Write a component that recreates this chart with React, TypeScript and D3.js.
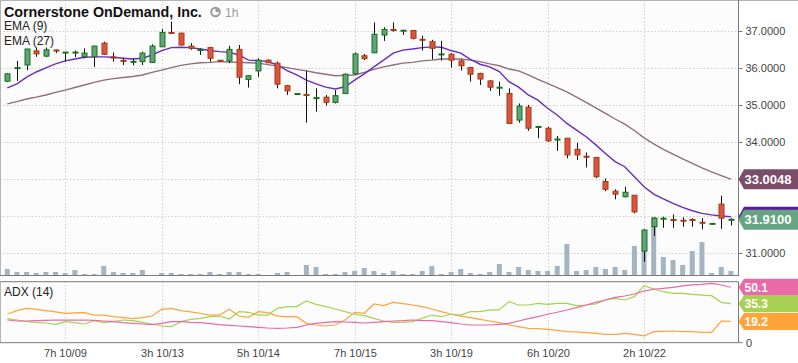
import React from 'react';
import * as d3 from 'd3';

const W = 798;
const H = 363;

const opens = [
  35.65, 36.00, 36.09, 36.47, 36.33, 36.49, 36.42, 36.42, 36.31, 36.31,
  36.68, 36.31, 36.22, 36.15, 36.18, 36.16, 36.58, 36.97, 36.95, 36.60,
  36.49, 36.56, 36.22, 36.20, 36.51, 35.70, 35.93, 36.22, 36.14, 35.53,
  35.30, 35.29, 35.19, 35.22, 35.08, 35.32, 35.85, 36.34, 36.42, 36.90,
  37.05, 37.01, 37.02, 36.78, 36.72, 36.37, 36.38, 36.20, 36.02, 35.86,
  35.66, 35.47, 35.32, 34.60, 34.95, 34.41, 34.38, 34.07, 34.11, 33.81,
  33.62, 33.59, 32.94, 32.68, 32.53, 32.57, 31.06, 31.72, 31.93, 31.92,
  31.90, 31.92, 31.84, 31.79, 32.33, 31.90,
];
const highs = [
  35.87, 36.20, 36.53, 36.56, 36.56, 36.51, 36.44, 36.48, 36.54, 36.61,
  36.72, 36.43, 36.29, 36.27, 36.45, 36.65, 37.06, 37.26, 36.96, 36.68,
  36.54, 36.58, 36.22, 36.61, 36.63, 35.82, 36.27, 36.24, 36.18, 35.55,
  35.31, 35.93, 35.46, 35.28, 35.41, 35.86, 36.43, 36.39, 37.24, 37.11,
  37.24, 37.04, 37.03, 36.88, 36.77, 36.74, 36.41, 36.24, 36.04, 35.88,
  35.68, 35.64, 35.46, 35.05, 35.01, 34.43, 34.42, 34.17, 34.11, 33.99,
  33.72, 33.59, 33.02, 32.73, 32.80, 32.57, 31.65, 31.97, 31.99, 32.05,
  31.97, 31.95, 31.95, 31.80, 32.56, 31.95,
];
const lows = [
  35.63, 35.66, 35.95, 36.31, 36.30, 36.41, 36.18, 36.30, 36.27, 36.04,
  36.36, 36.18, 36.09, 36.08, 36.09, 36.14, 36.58, 36.93, 36.62, 36.50,
  36.36, 36.18, 36.19, 36.14, 35.57, 35.48, 35.77, 36.14, 35.46, 35.28,
  35.30, 34.53, 34.83, 34.99, 35.05, 35.32, 35.82, 36.22, 36.41, 36.74,
  36.99, 36.90, 36.78, 36.48, 36.24, 36.21, 36.02, 35.94, 35.64, 35.55,
  35.39, 35.26, 34.50, 34.53, 34.31, 34.11, 34.01, 33.77, 33.57, 33.52,
  33.32, 33.03, 32.68, 32.46, 32.51, 32.08, 30.77, 31.47, 31.69, 31.69,
  31.72, 31.72, 31.65, 31.79, 31.66, 31.75,
];
const closes = [
  35.85, 36.01, 36.52, 36.39, 36.50, 36.47, 36.43, 36.43, 36.41, 36.60,
  36.38, 36.27, 36.18, 36.20, 36.41, 36.60, 36.97, 36.94, 36.63, 36.54,
  36.50, 36.27, 36.19, 36.51, 35.76, 35.80, 36.22, 36.15, 35.57, 35.39,
  35.31, 35.27, 35.20, 35.08, 35.26, 35.84, 36.39, 36.26, 36.92, 37.05,
  37.02, 37.02, 36.81, 36.76, 36.54, 36.38, 36.22, 36.07, 35.84, 35.71,
  35.49, 35.48, 34.51, 34.98, 34.38, 34.42, 34.04, 34.08, 33.66, 33.66,
  33.60, 33.07, 32.73, 32.60, 32.65, 32.12, 31.63, 31.95, 31.94, 31.88,
  31.86, 31.88, 31.81, 31.80, 31.95, 31.91,
];
const volumes = [
  15000, 7500, 7500, 5000, 7500, 7500, 5000, 12500, 2500, 2500,
  22500, 7500, 5000, 5000, 12500, 0, 5000, 5000, 2500, 2500,
  2500, 7500, 2500, 7500, 7500, 2500, 2500, 0, 5000, 7500,
  0, 25000, 20000, 2500, 2500, 7500, 10000, 17500, 10000, 5000,
  10000, 2500, 2500, 10000, 22500, 2500, 7500, 15000, 5000, 2500,
  7500, 27500, 7500, 20000, 12500, 10000, 10000, 22500, 77500, 10000,
  12500, 20000, 15000, 20000, 12500, 72500, 112500, 145000, 45000, 37500,
  25000, 60000, 82500, 5000, 20000, 10000,
];
const ema9 = [
  35.47, 35.58, 35.76, 35.90, 36.01, 36.12, 36.20, 36.25, 36.30, 36.31,
  36.31, 36.30, 36.27, 36.25, 36.27, 36.36, 36.48, 36.56, 36.57, 36.56,
  36.52, 36.48, 36.45, 36.43, 36.36, 36.22, 36.21, 36.18, 36.09, 35.94,
  35.82, 35.68, 35.58, 35.49, 35.44, 35.50, 35.68, 35.85, 36.04, 36.22,
  36.41, 36.49, 36.52, 36.56, 36.58, 36.57, 36.48, 36.41, 36.24, 36.11,
  36.04, 35.91, 35.64, 35.49, 35.28, 35.14, 34.92, 34.74, 34.51, 34.33,
  34.15, 33.93, 33.70, 33.48, 33.34, 33.07, 32.80, 32.60, 32.47, 32.35,
  32.24, 32.15, 32.08, 32.04, 32.01, 31.99,
];
const ema27 = [
  35.04, 35.10, 35.17, 35.22, 35.28, 35.35, 35.41, 35.48, 35.55, 35.62,
  35.68, 35.72, 35.75, 35.78, 35.82, 35.89, 35.95, 36.02, 36.08, 36.12,
  36.15, 36.16, 36.18, 36.17, 36.16, 36.15, 36.14, 36.10, 36.06, 36.02,
  35.97, 35.93, 35.88, 35.84, 35.80, 35.81, 35.82, 35.89, 35.97, 36.04,
  36.09, 36.14, 36.16, 36.20, 36.22, 36.25, 36.25, 36.25, 36.22, 36.18,
  36.12, 36.07, 35.98, 35.93, 35.82, 35.70, 35.59, 35.48, 35.36, 35.22,
  35.08, 34.93, 34.78, 34.63, 34.49, 34.32, 34.12, 33.96, 33.81, 33.68,
  33.55, 33.43, 33.31, 33.20, 33.10, 33.0048,
];
const adx = [
  20.5, 19.6, 19.6, 19.9, 20.2, 20.5, 20.5, 20.5, 20.5, 20.2,
  19.6, 19.0, 18.1, 17.5, 16.9, 16.3, 17.5, 19.0, 19.0, 18.4,
  18.1, 17.2, 16.3, 15.7, 15.1, 14.5, 13.9, 13.3, 13.0, 13.3,
  13.9, 16.0, 17.5, 18.4, 19.0, 18.7, 18.4, 17.8, 18.4, 19.0,
  19.6, 19.9, 20.5, 19.9, 19.9, 19.0, 18.1, 16.9, 16.0, 16.0,
  16.0, 16.6, 17.5, 19.6, 21.7, 23.5, 25.7, 27.5, 29.6, 31.7,
  34.1, 36.5, 38.6, 41.0, 42.2, 44.0, 46.7, 48.3, 49.2, 50.1,
  51.3, 52.2, 52.8, 53.7, 52.2, 50.1,
];
const diMinus = [
  21.7, 20.5, 19.0, 18.4, 17.8, 16.6, 19.0, 18.1, 16.9, 19.9,
  18.1, 19.0, 20.5, 19.9, 18.4, 16.9, 15.1, 14.5, 19.0, 21.1,
  22.0, 23.5, 24.1, 21.4, 28.1, 27.5, 25.0, 25.0, 31.1, 32.6,
  32.6, 37.7, 34.7, 32.6, 30.5, 28.1, 25.7, 24.4, 22.0, 19.6,
  18.4, 18.4, 19.0, 22.0, 25.0, 23.5, 25.7, 25.0, 28.1, 28.1,
  29.6, 29.6, 37.1, 34.1, 34.1, 35.6, 34.7, 35.6, 35.6, 33.5,
  34.1, 35.0, 38.6, 40.1, 38.6, 41.6, 51.6, 48.6, 46.1, 44.6,
  44.6, 43.7, 43.1, 42.5, 36.5, 35.3,
];
const diPlus = [
  25.9, 29.0, 31.1, 30.2, 29.0, 27.8, 26.6, 26.9, 27.2, 25.0,
  25.0, 23.5, 22.6, 21.7, 22.6, 24.1, 30.2, 31.1, 29.0, 27.8,
  26.6, 25.0, 25.0, 30.2, 24.1, 22.9, 28.1, 27.2, 24.1, 23.5,
  23.5, 17.5, 16.0, 15.1, 16.0, 20.5, 27.5, 26.6, 35.0, 33.5,
  36.5, 35.3, 34.1, 32.6, 30.5, 28.1, 25.7, 24.1, 22.6, 21.1,
  19.6, 18.1, 16.0, 14.5, 13.0, 12.7, 12.1, 11.2, 10.0, 9.7,
  9.1, 8.5, 7.6, 7.6, 8.5, 7.6, 6.1, 10.0, 10.3, 10.6,
  10.0, 10.0, 9.4, 9.4, 19.6, 19.2,
];
const timeTickIndex = [6, 16, 26, 36, 46, 56, 66];
const timeTickLabels = ['7h 10/09', '3h 10/13', '5h 10/14', '7h 10/15', '3h 10/19', '6h 10/20', '2h 10/22'];
const priceTicks = [31, 32, 33, 34, 35, 36, 37];

const FONT = "'Liberation Sans', Arial, Helvetica, sans-serif";
const AXIS_X = 738.5;
const MAIN_TOP = 0;
const MAIN_BOTTOM = 275;
const ADX_TOP = 281.7;
const ADX_BOTTOM = 342.7;

const C = {
  upFill: '#65a27c',
  upStroke: '#0f7418',
  downFill: '#dc5441',
  downStroke: '#a83a10',
  vol: '#a4b4c1',
  ema9: '#6a2cbb',
  ema27: '#8f6c80',
  ema27Label: '#7b4d68',
  ema9Label: '#5a1c9e',
  closeLabel: '#68a482',
  adx: '#e96aa6',
  diMinus: '#a8d152',
  diPlus: '#ffa33a',
  grid: '#c9d1c9',
};

export default function App() {
  const n = closes.length;
  const x = d3.scaleLinear().domain([-0.757, n - 0.21]).range([0, AXIS_X]);
  const y = d3.scaleLinear().domain([30.414, 37.846]).range([MAIN_BOTTOM, MAIN_TOP]);
  const yVol = d3.scaleLinear().domain([0, d3.max(volumes) as number]).range([MAIN_BOTTOM, MAIN_BOTTOM - 58]);
  const yAdx = d3.scaleLinear().domain([0, 55.15]).range([ADX_BOTTOM, ADX_TOP]);

  const priceLine = d3.line<number>().x((_, i) => x(i)).y((d) => y(d));
  const adxLine = d3.line<number>().x((_, i) => x(i)).y((d) => yAdx(d));

  const bodyW = 5;

  const labelPoly = (cy: number, h: number) => {
    const hh = h / 2;
    return `M${AXIS_X},${cy} L${AXIS_X + 5.5},${cy - hh} L${W},${cy - hh} L${W},${cy + hh} L${AXIS_X + 5.5},${cy + hh} Z`;
  };

  const lastIdx = n - 1;
  // EMA(9) label sits beneath the close label; only its edge is visible, so no text
  const mainLabels = [
    { v: ema27[lastIdx], color: C.ema27Label, showText: true },
    { v: ema9[lastIdx], color: C.ema9Label, showText: false },
    { v: closes[lastIdx], color: C.closeLabel, showText: true },
  ];
  const adxLabels = [
    { v: adx[lastIdx], color: C.adx },
    { v: diMinus[lastIdx], color: C.diMinus },
    { v: diPlus[lastIdx], color: C.diPlus },
  ];
  // tick texts hidden behind value labels are not drawn
  const tickHidden = (p: number) => mainLabels.some((l) => Math.abs(y(l.v) - y(p)) < 12);

  return (
    <svg width={W} height={H} style={{ position: 'absolute', left: 0, top: 0, background: '#fff' }} fontFamily={FONT}>
      <defs>
        <clipPath id="mainClip">
          <rect x={0} y={MAIN_TOP} width={AXIS_X} height={MAIN_BOTTOM - MAIN_TOP} />
        </clipPath>
        <clipPath id="adxClip">
          <rect x={0} y={ADX_TOP} width={AXIS_X} height={ADX_BOTTOM - ADX_TOP} />
        </clipPath>
      </defs>
      <rect x={0} y={MAIN_TOP} width={AXIS_X} height={MAIN_BOTTOM - MAIN_TOP} fill="#fcfcfc" />
      <rect x={0} y={ADX_TOP} width={AXIS_X} height={ADX_BOTTOM - ADX_TOP} fill="#fcfcfc" />

      {/* grids */}
      {priceTicks.map((p) => (
        <line key={'hg' + p} x1={0} x2={AXIS_X} y1={Math.round(y(p)) + 0.5} y2={Math.round(y(p)) + 0.5}
          stroke={C.grid} strokeDasharray="1.5,2" />
      ))}
      {timeTickIndex.map((ti) => (
        <g key={'vg' + ti}>
          <line x1={Math.round(x(ti)) + 0.5} x2={Math.round(x(ti)) + 0.5} y1={MAIN_TOP} y2={MAIN_BOTTOM}
            stroke={C.grid} strokeDasharray="1.5,2" />
          <line x1={Math.round(x(ti)) + 0.5} x2={Math.round(x(ti)) + 0.5} y1={ADX_TOP} y2={ADX_BOTTOM}
            stroke={C.grid} strokeDasharray="1.5,2" />
        </g>
      ))}

      {/* volume */}
      <g>
        {volumes.map((v, i) => (
          v > 0 ? (
            <rect key={'v' + i} x={x(i) - 2.5} y={yVol(v)} width={5} height={MAIN_BOTTOM - yVol(v)} fill={C.vol} />
          ) : null
        ))}
      </g>

      {/* EMA lines */}
      <g clipPath="url(#mainClip)">
        <path d={priceLine(ema27) || ''} fill="none" stroke={C.ema27} strokeWidth={1.4} />
        <path d={priceLine(ema9) || ''} fill="none" stroke={C.ema9} strokeWidth={1.4} />
      </g>

      {/* candles */}
      <g>
        {closes.map((c, i) => {
          const o = opens[i];
          const up = c >= o;
          const cx = Math.round(x(i)) + 0.5;
          const top = y(Math.max(o, c));
          const bot = y(Math.min(o, c));
          const h = bot - top;
          return (
            <g key={'c' + i}>
              <line x1={cx} x2={cx} y1={y(highs[i])} y2={y(lows[i])} stroke="#111" strokeWidth={1} />
              {h < 2.2 ? (
                <rect x={cx - 3} y={(top + bot) / 2 - 1} width={6} height={2}
                  fill={up ? C.upStroke : C.downStroke} />
              ) : (
                <rect x={cx - bodyW / 2} y={top} width={bodyW} height={h}
                  fill={up ? C.upFill : C.downFill} stroke={up ? C.upStroke : C.downStroke} strokeWidth={1} />
              )}
            </g>
          );
        })}
      </g>

      {/* ADX lines */}
      <g clipPath="url(#adxClip)">
        <path d={adxLine(diPlus) || ''} fill="none" stroke={C.diPlus} strokeWidth={1.2} />
        <path d={adxLine(diMinus) || ''} fill="none" stroke={C.diMinus} strokeWidth={1.2} />
        <path d={adxLine(adx) || ''} fill="none" stroke={C.adx} strokeWidth={1.2} />
      </g>

      {/* frames */}
      <line x1={0} x2={W} y1={0.5} y2={0.5} stroke="#b5b5b5" />
      <line x1={0.5} x2={0.5} y1={0} y2={MAIN_BOTTOM} stroke="#b5b5b5" />
      <line x1={0} x2={AXIS_X} y1={MAIN_BOTTOM + 0.5} y2={MAIN_BOTTOM + 0.5} stroke="#7a7a7a" />
      <line x1={0} x2={AXIS_X} y1={ADX_TOP} y2={ADX_TOP} stroke="#7a7a7a" />
      <line x1={0.5} x2={0.5} y1={ADX_TOP} y2={ADX_BOTTOM} stroke="#b5b5b5" />
      <line x1={0} x2={AXIS_X} y1={ADX_BOTTOM} y2={ADX_BOTTOM} stroke="#7a7a7a" />
      <line x1={AXIS_X} x2={AXIS_X} y1={0} y2={MAIN_BOTTOM + 1} stroke="#7a7a7a" />
      <line x1={AXIS_X} x2={AXIS_X} y1={ADX_TOP} y2={ADX_BOTTOM} stroke="#7a7a7a" />

      {/* price axis */}
      {priceTicks.map((p) => (
        <g key={'pt' + p}>
          <line x1={AXIS_X} x2={AXIS_X + 4} y1={Math.round(y(p)) + 0.5} y2={Math.round(y(p)) + 0.5} stroke="#7a7a7a" />
          {tickHidden(p) ? null : (
            <text x={745.5} y={y(p)} dy="0.36em" fontSize={11} fill="#444">{p.toFixed(4)}</text>
          )}
        </g>
      ))}
      <line x1={AXIS_X} x2={AXIS_X + 4} y1={ADX_BOTTOM} y2={ADX_BOTTOM} stroke="#7a7a7a" />
      <text x={746} y={ADX_BOTTOM} dy="0.36em" fontSize={11} fill="#444">0</text>

      {/* value labels */}
      {mainLabels.map((l, k) => (
        <g key={'ml' + k}>
          <path d={labelPoly(y(l.v), 20)} fill={l.color} />
          {l.showText ? (
            <text x={744.5} y={y(l.v)} dy="0.36em" fontSize={13} fontWeight="bold" fill="#fff">{l.v.toFixed(4)}</text>
          ) : null}
        </g>
      ))}
      {adxLabels.map((l, k) => (
        <g key={'al' + k}>
          <path d={labelPoly(yAdx(l.v), 17)} fill={l.color} />
          <text x={744.5} y={yAdx(l.v)} dy="0.36em" fontSize={12} fontWeight="bold" fill="#fff">{l.v.toFixed(1)}</text>
        </g>
      ))}

      {/* time axis labels */}
      {timeTickIndex.map((ti, k) => (
        <text key={'tl' + ti} x={Math.round(x(ti)) + 0.5} y={357} textAnchor="middle" fontSize={11} fill="#444">
          {timeTickLabels[k]}
        </text>
      ))}

      {/* titles */}
      <text x={4} y={16.5} fontSize={14.3} fontWeight="bold" fill="#111">Cornerstone OnDemand, Inc.</text>
      <g>
        <circle cx={215.5} cy={12} r={4.3} fill="none" stroke="#9b9b9b" strokeWidth={2} />
        <path d="M215.5,12 L215.5,8.5 A3.5,3.5 0 0 1 219,12 Z" fill="#9b9b9b" />
      </g>
      <text x={225} y={16.5} fontSize={12} fill="#9b9b9b">1h</text>
      <text x={4} y={29.5} fontSize={12} fill="#222">EMA (9)</text>
      <text x={4} y={44.5} fontSize={12} fill="#222">EMA (27)</text>
      <text x={4} y={295.5} fontSize={12} fill="#222">ADX (14)</text>
    </svg>
  );
}
